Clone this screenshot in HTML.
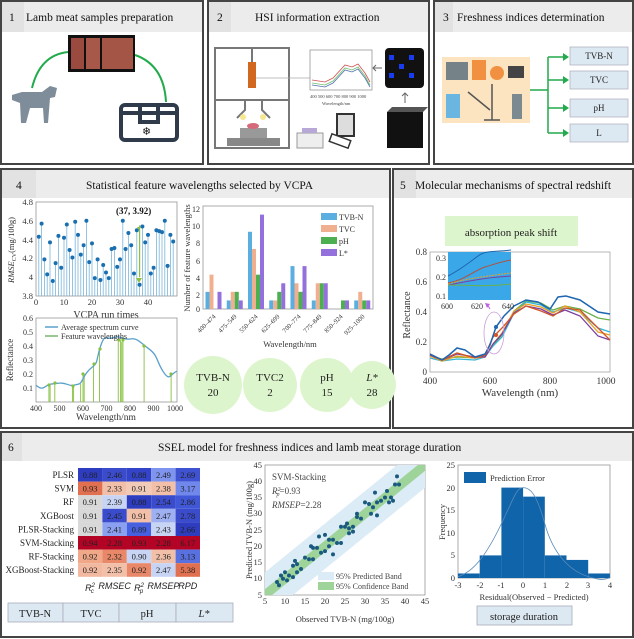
<!DOCTYPE html>
<html><head><meta charset="utf-8"><style>
html,body{margin:0;padding:0;background:#fff}
svg{display:block;font-family:"Liberation Serif",serif}
</style></head><body>
<svg width="634" height="639" viewBox="0 0 634 639" xmlns="http://www.w3.org/2000/svg">
<defs>
<clipPath id="scl"><rect x="265" y="465" width="160" height="130"/></clipPath>
</defs>
<!-- panel frames -->
<g fill="none" stroke="#444" stroke-width="2">
<rect x="1" y="1" width="202" height="163"/>
<rect x="208" y="1" width="221" height="163"/>
<rect x="434" y="1" width="199" height="163"/>
<rect x="1" y="169" width="389" height="259"/>
<rect x="393" y="169" width="240" height="259"/>
<rect x="1" y="432" width="632" height="205"/>
</g>
<g fill="#ececec">
<rect x="2" y="2" width="200" height="30"/>
<rect x="209" y="2" width="219" height="30"/>
<rect x="435" y="2" width="197" height="30"/>
<rect x="2" y="170" width="387" height="28"/>
<rect x="394" y="170" width="238" height="28"/>
<rect x="2" y="433" width="630" height="28"/>
</g>
<g fill="#e2e2e2">
<rect x="2" y="2" width="22" height="30"/><rect x="209" y="2" width="22" height="30"/><rect x="435" y="2" width="18" height="30"/>
<rect x="2" y="170" width="34" height="28"/><rect x="394" y="170" width="22" height="28"/><rect x="2" y="433" width="20" height="28"/>
</g>
<g font-size="11.5" fill="#111">
<text x="9" y="21">1</text><text x="26" y="21">Lamb meat samples preparation</text>
<text x="217" y="21">2</text><text x="255" y="21">HSI information extraction</text>
<text x="443" y="21">3</text><text x="457" y="21">Freshness indices determination</text>
<text x="16" y="189">4</text><text x="86" y="189">Statistical feature wavelengths selected by VCPA</text>
<text x="400" y="189">5</text><text x="415" y="189">Molecular mechanisms of spectral redshift</text>
<text x="8" y="451">6</text><text x="158" y="451">SSEL model for freshness indices and lamb meat storage duration</text>
</g>
<!-- panel 1 -->
<path d="M32 88 Q40 55 68 52" fill="none" stroke="#22aa4c" stroke-width="2"/>
<path d="M135 55 Q164 65 166 102" fill="none" stroke="#22aa4c" stroke-width="2"/>
<rect x="68" y="35" width="67" height="37" fill="#111"/>
<rect x="71" y="38" width="13" height="31" fill="#9a4a3e"/><rect x="86" y="38" width="14" height="31" fill="#a85848"/><rect x="102" y="38" width="31" height="31" fill="#a55545"/>
<path d="M12 95 L22 92 L42 92 L50 86 L57 88 L55 97 L50 98 L48 123 L44 123 L43 108 L30 108 L26 123 L21 123 L20 103 L12 100 Z" fill="#7f8c99"/>
<rect x="121" y="105" width="56" height="35" rx="4" fill="none" stroke="#2f3b4a" stroke-width="4"/>
<path d="M121 113 H177 M140 105 V122 H158 V105" fill="none" stroke="#2f3b4a" stroke-width="4"/>
<text x="142" y="135" font-size="11" fill="#111">❄</text>
<!-- panel 2 -->
<rect x="215" y="48" width="74" height="100" fill="none" stroke="#777" stroke-width="2"/>
<path d="M215 100 H289 M245 100 V110 L237 118 M262 100 V110 L270 118" fill="none" stroke="#777" stroke-width="2"/>
<rect x="248" y="62" width="8" height="26" fill="#d06820"/><path d="M252 48 V62" stroke="#777" stroke-width="2"/>
<path d="M256 78 H310" stroke="#aaa" stroke-width="0.7"/>
<rect x="227" y="138" width="53" height="8" fill="#888"/><rect x="240" y="128" width="27" height="10" fill="#999"/>
<ellipse cx="253" cy="126" rx="6" ry="3" fill="#d56a7a"/>
<circle cx="243" cy="117" r="3" fill="#f6e890"/><circle cx="263" cy="117" r="3" fill="#f6e890"/>
<rect x="310" y="50" width="62" height="40" fill="#fff" stroke="#888" stroke-width="0.7"/>
<path d="M312 80 L325 82 L333 78 L345 65 L352 67 L358 64 L365 73 L370 82" fill="none" stroke="#d05050" stroke-width="0.8"/>
<path d="M312 83 L325 85 L333 81 L345 68 L352 70 L358 67 L365 76 L370 85" fill="none" stroke="#70c070" stroke-width="0.8"/>
<path d="M312 85 L325 87 L333 83 L345 70 L352 72 L358 69 L365 78 L370 87" fill="none" stroke="#5070b0" stroke-width="0.8"/>
<text x="310" y="98" font-size="4.5" fill="#444">400 500 600 700 800 900 1000</text>
<text x="322" y="105" font-size="4.5" fill="#444">Wavelength/nm</text>
<rect x="385" y="48" width="39" height="40" fill="#111" rx="4"/>
<g fill="#1a3cf0"><rect x="389" y="55" width="5" height="5"/><rect x="409" y="55" width="5" height="5"/><rect x="399" y="64" width="5" height="5"/><rect x="389" y="73" width="5" height="5"/><rect x="409" y="73" width="5" height="5"/></g>
<path d="M382 68 H373 M376 65 L373 68 L376 71 M405 103 V93 M402 96 L405 93 L408 96" fill="none" stroke="#666" stroke-width="1"/>
<rect x="387" y="112" width="36" height="36" fill="#111"/><path d="M387 112 L392 107 H428 L423 112" fill="#555"/>
<rect x="297" y="133" width="26" height="15" fill="#eee" stroke="#999"/><rect x="302" y="128" width="15" height="5" fill="#b8a8d8"/>
<rect x="337" y="114" width="17" height="22" fill="#ddd" stroke="#333" stroke-width="2"/>
<rect x="330" y="137" width="20" height="8" fill="#fff" stroke="#333" stroke-width="1.5" transform="rotate(20 340 141)"/>
<!-- panel 3 -->
<rect x="442" y="57" width="88" height="66" fill="#fde4c0"/>
<rect x="446" y="62" width="22" height="18" fill="#3b5a70" opacity="0.7"/><rect x="472" y="60" width="14" height="20" fill="#f09040"/>
<circle cx="497" cy="73" r="7" fill="#f09040"/><rect x="508" y="66" width="16" height="12" fill="#444"/>
<rect x="446" y="94" width="14" height="24" fill="#6ab6e0"/><rect x="512" y="94" width="10" height="25" fill="#7a8a90"/>
<path d="M492 84 V120 M484 120 H500 M468 92 L490 110" stroke="#555" stroke-width="1.5"/>
<path d="M530 90 H548 M548 57 V133 M548 57 H563 M548 80 H563 M548 108 H563 M548 133 H563" fill="none" stroke="#22aa4c" stroke-width="1.5"/>
<g fill="#22aa4c"><path d="M563 53 L569 57 L563 61Z"/><path d="M563 76 L569 80 L563 84Z"/><path d="M563 104 L569 108 L563 112Z"/><path d="M563 129 L569 133 L563 137Z"/></g>
<g fill="#dde9f2" stroke="#aab" stroke-width="0.7">
<rect x="570" y="47" width="58" height="18"/><rect x="570" y="71" width="58" height="18"/><rect x="570" y="99" width="58" height="18"/><rect x="570" y="124" width="58" height="18"/></g>
<g font-size="9" fill="#222" text-anchor="middle"><text x="599" y="59">TVB-N</text><text x="599" y="83">TVC</text><text x="599" y="111">pH</text><text x="599" y="136">L</text></g>
<!-- panel 4 top-left stem -->
<rect x="36" y="202" width="141" height="94" fill="#fff" stroke="#888" stroke-width="0.7"/>
<g transform="translate(36,296) scale(2.8,-94)">
<path vector-effect="non-scaling-stroke" stroke="#7ab6d8" stroke-width="0.8" fill="none" d="M1 0V.63M2 0V.77M3 0V.39M4 0V.23M5 0V.57M6 0V.16M7 0V.35M8 0V.64M9 0V.3M10 0V.62M11 0V.76M12 0V.49M13 0V.41M14 0V.79M15 0V.65M16 0V.44M17 0V.54M18 0V.8M19 0V.36M20 0V.56M21 0V.19M22 0V.39M23 0V.17M24 0V.33M25 0V.25M26 0V.19M27 0V.5M28 0V.51M29 0V.31M30 0V.39M31 0V.8M32 0V.5M33 0V.67M34 0V.54M35 0V.24M36 0V.7M37 0V.12M38 0V.74M39 0V.57M40 0V.65M41 0V.24M42 0V.3M43 0V.7M44 0V.69M45 0V.68M46 0V.8M47 0V.32M48 0V.65M49 0V.58"/>
<path vector-effect="non-scaling-stroke" stroke="#1a6fb0" stroke-width="4" stroke-linecap="round" fill="none" d="M1 .63h0M2 .77h0M3 .39h0M4 .23h0M5 .57h0M6 .16h0M7 .35h0M8 .64h0M9 .3h0M10 .62h0M11 .76h0M12 .49h0M13 .41h0M14 .79h0M15 .65h0M16 .44h0M17 .54h0M18 .8h0M19 .36h0M20 .56h0M21 .19h0M22 .39h0M23 .17h0M24 .33h0M25 .25h0M26 .19h0M27 .5h0M28 .51h0M29 .31h0M30 .39h0M31 .8h0M32 .5h0M33 .67h0M34 .54h0M35 .24h0M36 .7h0M37 .12h0M38 .74h0M39 .57h0M40 .65h0M41 .24h0M42 .3h0M43 .7h0M44 .69h0M45 .68h0M46 .8h0M47 .32h0M48 .65h0M49 .58h0"/>
<path vector-effect="non-scaling-stroke" stroke="#8fc040" stroke-width="1.2" d="M37 .2V.75"/>
</g>
<path d="M137 227 L141 227 L139 230Z" fill="#8fc040"/><path d="M136 278 L142 278 L139 283Z" fill="#8fc040"/>
<text x="116" y="214" font-size="9" font-weight="bold" fill="#111">(37, 3.92)</text>
<g font-size="8.5" fill="#333" text-anchor="end"><text x="33" y="205">4.8</text><text x="33" y="224">4.6</text><text x="33" y="243">4.4</text><text x="33" y="261">4.2</text><text x="33" y="280">4</text><text x="33" y="299">3.8</text></g>
<g font-size="8.5" fill="#333" text-anchor="middle"><text x="36" y="305">0</text><text x="64" y="305">10</text><text x="92" y="305">20</text><text x="120" y="305">30</text><text x="148" y="305">40</text></g>
<text x="106" y="318" font-size="10" fill="#333" text-anchor="middle">VCPA run times</text>
<text transform="translate(14,250) rotate(-90)" font-size="8.5" fill="#333" text-anchor="middle"><tspan font-style="italic">RMSE</tspan><tspan font-size="6" dy="2">CV</tspan><tspan dy="-2">(mg/100g)</tspan></text>
<!-- bottom-left spectrum -->
<rect x="36" y="318" width="141" height="84" fill="#fff" stroke="#888" stroke-width="0.7"/>
<g transform="translate(36,402) scale(0.235,-140)">
<path vector-effect="non-scaling-stroke" stroke="#88c040" stroke-width="0.9" fill="none" d="M55 0V.125M60 0V.13M80 0V.135M155 0V.115M160 0V.12M190 0V.13M200 0V.19M205 0V.2M245 0V.27M270 0V.38M350 0V.445M360 0V.44M365 0V.43M370 0V.44M460 0V.4M575 0V.2"/>
<path vector-effect="non-scaling-stroke" stroke="#5aa0cc" stroke-width="1.3" fill="none" d="M0 .12C15 .1 25 .09 40 .11S70 .13 100 .135 140 .11 160 .12 185 .12 195 .15 215 .22 240 .25 255 .3 275 .4 300 .44 330 .46 370 .44 400 .45 440 .43 480 .38 510 .3 540 .22 570 .2 600 .22"/>
</g>
<g fill="#88c040"><circle cx="49" cy="385" r="1.6"/><circle cx="55" cy="383" r="1.6"/><circle cx="73" cy="386" r="1.6"/><circle cx="83" cy="374" r="1.6"/><circle cx="94" cy="364" r="1.6"/><circle cx="100" cy="349" r="1.6"/><circle cx="119" cy="340" r="1.6"/><circle cx="123" cy="340" r="1.6"/><circle cx="144" cy="346" r="1.6"/><circle cx="171" cy="374" r="1.6"/></g>
<path d="M45 327 H58 M45 336 H58" stroke-width="1.5" stroke="#5aa0cc"/><path d="M45 336 H58" stroke="#88c040" stroke-width="1"/>
<text x="61" y="330" font-size="8" fill="#333">Average spectrum curve</text><text x="61" y="339" font-size="8" fill="#333">Feature wavelengths</text>
<g font-size="8" fill="#333" text-anchor="end"><text x="33" y="321">0.6</text><text x="33" y="335">0.5</text><text x="33" y="349">0.4</text><text x="33" y="363">0.3</text><text x="33" y="377">0.2</text><text x="33" y="391">0.1</text></g>
<g font-size="8" fill="#333" text-anchor="middle"><text x="36" y="411">400</text><text x="59.5" y="411">500</text><text x="83" y="411">600</text><text x="106.5" y="411">700</text><text x="130" y="411">800</text><text x="153.5" y="411">900</text><text x="175" y="411">1000</text></g>
<text x="106" y="420" font-size="9.5" fill="#333" text-anchor="middle">Wavelength/nm</text>
<text transform="translate(13,360) rotate(-90)" font-size="9" fill="#333" text-anchor="middle">Reflectance</text>
<!-- bar chart -->
<rect x="203" y="206" width="170" height="103" fill="#fff" stroke="#888" stroke-width="0.7"/>
<g transform="translate(203,309) scale(1,-8.58)">
<g transform="translate(2.5,0)"><rect x="0" width="4" height="2" fill="#5aaee0"/><rect x="4" width="4" height="4" fill="#f0b090"/><rect x="12" width="4" height="2" fill="#9370db"/></g>
<g transform="translate(23.75,0)"><rect x="0" width="4" height="1" fill="#5aaee0"/><rect x="4" width="4" height="2" fill="#f0b090"/><rect x="8" width="4" height="2" fill="#4caf50"/><rect x="12" width="4" height="1" fill="#9370db"/></g>
<g transform="translate(45,0)"><rect x="0" width="4" height="9" fill="#5aaee0"/><rect x="4" width="4" height="7" fill="#f0b090"/><rect x="8" width="4" height="4" fill="#4caf50"/><rect x="12" width="4" height="11" fill="#9370db"/></g>
<g transform="translate(66.25,0)"><rect x="0" width="4" height="1" fill="#5aaee0"/><rect x="4" width="4" height="1" fill="#f0b090"/><rect x="8" width="4" height="2" fill="#4caf50"/><rect x="12" width="4" height="3" fill="#9370db"/></g>
<g transform="translate(87.5,0)"><rect x="0" width="4" height="5" fill="#5aaee0"/><rect x="4" width="4" height="3" fill="#f0b090"/><rect x="8" width="4" height="2" fill="#4caf50"/><rect x="12" width="4" height="5" fill="#9370db"/></g>
<g transform="translate(108.75,0)"><rect x="0" width="4" height="1" fill="#5aaee0"/><rect x="4" width="4" height="3" fill="#f0b090"/><rect x="8" width="4" height="3" fill="#4caf50"/><rect x="12" width="4" height="3" fill="#9370db"/></g>
<g transform="translate(130,0)"><rect x="8" width="4" height="1" fill="#4caf50"/><rect x="12" width="4" height="1" fill="#9370db"/></g>
<g transform="translate(151.25,0)"><rect x="0" width="4" height="1" fill="#5aaee0"/><rect x="4" width="4" height="2" fill="#f0b090"/><rect x="8" width="4" height="1" fill="#4caf50"/><rect x="12" width="4" height="1" fill="#9370db"/></g>
</g>
<g font-size="8" fill="#333" text-anchor="end"><text x="200" y="212">12</text><text x="200" y="229">10</text><text x="200" y="246">8</text><text x="200" y="264">6</text><text x="200" y="281">4</text><text x="200" y="298">2</text><text x="200" y="312">0</text></g>
<g font-size="6.5" fill="#333" text-anchor="end">
<text transform="translate(216,317) rotate(-45)">400–474</text><text transform="translate(237,317) rotate(-45)">475–549</text><text transform="translate(258,317) rotate(-45)">550–624</text><text transform="translate(280,317) rotate(-45)">625–699</text><text transform="translate(301,317) rotate(-45)">700–774</text><text transform="translate(322,317) rotate(-45)">775–849</text><text transform="translate(343,317) rotate(-45)">850–924</text><text transform="translate(365,317) rotate(-45)">925–1000</text></g>
<text x="290" y="347" font-size="8.5" fill="#333" text-anchor="middle">Wavelength/nm</text>
<text transform="translate(190,258) rotate(-90)" font-size="8.5" fill="#333" text-anchor="middle">Number of feature wavelengths</text>
<rect x="319" y="211" width="52" height="50" fill="#fff"/>
<rect x="321" y="213" width="16" height="7" fill="#5aaee0"/><rect x="321" y="225" width="16" height="7" fill="#f0b090"/><rect x="321" y="237" width="16" height="7" fill="#4caf50"/><rect x="321" y="249" width="16" height="7" fill="#9370db"/>
<g font-size="8" fill="#333"><text x="339" y="220">TVB-N</text><text x="339" y="232">TVC</text><text x="339" y="244">pH</text><text x="339" y="256">L*</text></g>
<g fill="#ddf5cc"><circle cx="213" cy="385" r="29"/><circle cx="270" cy="385" r="27"/><circle cx="327" cy="385" r="27"/><circle cx="372" cy="385" r="24"/></g>
<g font-size="11" fill="#222" text-anchor="middle"><text x="213" y="381">TVB-N</text><text x="213" y="396">20</text><text x="270" y="381">TVC2</text><text x="270" y="396">2</text><text x="327" y="381">pH</text><text x="327" y="396">15</text><text x="372" y="381" font-style="italic">L*</text><text x="372" y="396">28</text></g>
<!-- panel 5 -->
<rect x="445" y="216" width="133" height="30" fill="#ddf5cc"/>
<text x="511" y="236" font-size="11" fill="#222" text-anchor="middle">absorption peak shift</text>
<rect x="430" y="252" width="180" height="120" fill="#fff" stroke="#999" stroke-width="0.7"/>
<polyline fill="none" stroke="#6ab04a" stroke-width="1.3" points="430,356 442,359 457,357 475,358 485,356 493,345 502,335 514,311 526,301 541,303 553,310 565,306 580,309 598,318 610,320"/>
<polyline fill="none" stroke="#35b6d8" stroke-width="1.3" points="430,358 442,361 457,359 475,360 485,357 493,346 502,337 514,313 526,302 541,305 553,312 565,308 580,312 598,328 610,332"/>
<polyline fill="none" stroke="#e9a020" stroke-width="1.3" points="430,356 442,361 457,356 475,358 485,357 493,344 502,333 514,311 526,304 541,307 553,313 565,306 580,312 598,332 610,335"/>
<polyline fill="none" stroke="#7b3fa0" stroke-width="1.3" points="430,355 442,360 457,354 475,357 485,357 493,344 502,334 514,313 526,306 541,309 553,315 565,310 580,316 598,336 610,340"/>
<polyline fill="none" stroke="#d2552a" stroke-width="1.3" points="430,354 442,360 457,353 475,358 485,355 493,337 502,328 514,314 526,306 541,311 553,316 565,308 580,310 598,328 610,340"/>
<polyline fill="none" stroke="#1f66b0" stroke-width="1.5" points="430,354 442,360 449,355 457,348 465,350 475,357 485,354 490,345 496,327 504,316 514,306 526,300 538,302 546,307 550,309 558,297 566,296 580,300 598,312 610,314"/>
<ellipse cx="494" cy="333" rx="10" ry="21" fill="none" stroke="#c9a0d8" stroke-width="0.8"/>
<circle cx="496" cy="327" r="2" fill="#1f66b0"/><circle cx="496" cy="335" r="2" fill="#d2552a"/>
<path d="M490 309 L487 304" stroke="#c060e0" stroke-width="1"/><path d="M485 303 L490 304 L487 308Z" fill="#c060e0"/>
<rect x="448" y="252" width="63" height="48" fill="#3aa8e8"/>
<path d="M448 276 C460 270 470 262 478 256 S495 252 511 250" fill="none" stroke="#1f66b0" stroke-width="1"/>
<path d="M448 283 C465 280 475 270 485 267 S500 262 511 260" fill="none" stroke="#b05040" stroke-width="1"/>
<path d="M448 285 C465 282 480 278 511 276" fill="none" stroke="#7b3fa0" stroke-width="1"/>
<path d="M448 284 C465 279 480 277 511 273" fill="none" stroke="#e9a020" stroke-width="1" stroke-dasharray="2 1"/>
<path d="M448 285 C465 285 485 287 511 284" fill="none" stroke="#6ab04a" stroke-width="1"/>
<g font-size="9" fill="#333" text-anchor="end"><text x="427" y="255">0.8</text><text x="427" y="285">0.6</text><text x="427" y="315">0.4</text><text x="427" y="345">0.2</text><text x="427" y="375">0</text></g>
<g font-size="8" fill="#333"><text x="446" y="261" text-anchor="end">0.3</text><text x="446" y="280" text-anchor="end">0.2</text><text x="446" y="299" text-anchor="end">0.1</text><text x="441" y="309">600</text><text x="471" y="309">620</text><text x="502" y="309">640</text></g>
<g font-size="9.5" fill="#333" text-anchor="middle"><text x="430" y="384">400</text><text x="490" y="384">600</text><text x="550" y="384">800</text><text x="606" y="384">1000</text></g>
<text x="520" y="396" font-size="11" fill="#333" text-anchor="middle">Wavelength (nm)</text>
<text transform="translate(410,315) rotate(-90)" font-size="10" fill="#333" text-anchor="middle">Reflectance</text>
<!-- panel 6 heatmap -->
<g transform="translate(78,468)">
<g><rect x="0" y="0" width="24.4" height="13.6" fill="#2e3cc0"/><rect x="24.4" y="0" width="24.4" height="13.6" fill="#3a4ccc"/><rect x="48.8" y="0" width="24.4" height="13.6" fill="#3344c8"/><rect x="73.2" y="0" width="24.4" height="13.6" fill="#7f94ee"/><rect x="97.6" y="0" width="24.4" height="13.6" fill="#3e52d2"/></g>
<g transform="translate(0,13.6)"><rect width="24.4" height="13.6" fill="#e07050"/><rect x="24.4" width="24.4" height="13.6" fill="#f2c0a8"/><rect x="48.8" width="24.4" height="13.6" fill="#f2cbb8"/><rect x="73.2" width="24.4" height="13.6" fill="#f2c0a8"/><rect x="97.6" width="24.4" height="13.6" fill="#7088ec"/></g>
<g transform="translate(0,27.2)"><rect width="24.4" height="13.6" fill="#d8d8d8"/><rect x="24.4" width="24.4" height="13.6" fill="#c8d4f4"/><rect x="48.8" width="24.4" height="13.6" fill="#2e3cc0"/><rect x="73.2" width="24.4" height="13.6" fill="#3a4ccc"/><rect x="97.6" width="24.4" height="13.6" fill="#4058d8"/></g>
<g transform="translate(0,40.8)"><rect width="24.4" height="13.6" fill="#d8d8d8"/><rect x="24.4" width="24.4" height="13.6" fill="#3a4ccc"/><rect x="48.8" width="24.4" height="13.6" fill="#f2c0a8"/><rect x="73.2" width="24.4" height="13.6" fill="#9eb0f2"/><rect x="97.6" width="24.4" height="13.6" fill="#3a4ccc"/></g>
<g transform="translate(0,54.4)"><rect width="24.4" height="13.6" fill="#d8d8d8"/><rect x="24.4" width="24.4" height="13.6" fill="#8aa0f0"/><rect x="48.8" width="24.4" height="13.6" fill="#4660e0"/><rect x="73.2" width="24.4" height="13.6" fill="#c8d4f4"/><rect x="97.6" width="24.4" height="13.6" fill="#2e3cc0"/></g>
<rect y="68" width="122" height="13.6" fill="#b40426"/>
<g transform="translate(0,81.6)"><rect width="24.4" height="13.6" fill="#f0a888"/><rect x="24.4" width="24.4" height="13.6" fill="#e88868"/><rect x="48.8" width="24.4" height="13.6" fill="#c8d4f4"/><rect x="73.2" width="24.4" height="13.6" fill="#f2c0a8"/><rect x="97.6" width="24.4" height="13.6" fill="#5870e0"/></g>
<g transform="translate(0,95.2)"><rect width="24.4" height="13.6" fill="#f2b8a0"/><rect x="24.4" width="24.4" height="13.6" fill="#f2c0a8"/><rect x="48.8" width="24.4" height="13.6" fill="#e88868"/><rect x="73.2" width="24.4" height="13.6" fill="#c8d4f4"/><rect x="97.6" width="24.4" height="13.6" fill="#e07050"/></g>
<g font-size="8.5" fill="#222" text-anchor="middle">
<text x="12" y="10">0.88</text><text x="36.6" y="10">2.46</text><text x="61" y="10">0.88</text><text x="85.4" y="10">2.49</text><text x="109.8" y="10">2.69</text>
<text x="12" y="23.6">0.93</text><text x="36.6" y="23.6">2.33</text><text x="61" y="23.6">0.91</text><text x="85.4" y="23.6">2.38</text><text x="109.8" y="23.6">3.17</text>
<text x="12" y="37.2">0.91</text><text x="36.6" y="37.2">2.39</text><text x="61" y="37.2">0.88</text><text x="85.4" y="37.2">2.54</text><text x="109.8" y="37.2">2.86</text>
<text x="12" y="50.8">0.91</text><text x="36.6" y="50.8">2.45</text><text x="61" y="50.8">0.91</text><text x="85.4" y="50.8">2.47</text><text x="109.8" y="50.8">2.78</text>
<text x="12" y="64.4">0.91</text><text x="36.6" y="64.4">2.41</text><text x="61" y="64.4">0.89</text><text x="85.4" y="64.4">2.43</text><text x="109.8" y="64.4">2.66</text>
<text x="12" y="78">0.94</text><text x="36.6" y="78">2.28</text><text x="61" y="78">0.93</text><text x="85.4" y="78">2.28</text><text x="109.8" y="78">6.17</text>
<text x="12" y="91.6">0.92</text><text x="36.6" y="91.6">2.32</text><text x="61" y="91.6">0.90</text><text x="85.4" y="91.6">2.36</text><text x="109.8" y="91.6">3.13</text>
<text x="12" y="105.2">0.92</text><text x="36.6" y="105.2">2.35</text><text x="61" y="105.2">0.92</text><text x="85.4" y="105.2">2.47</text><text x="109.8" y="105.2">5.38</text></g>
<g font-size="9" fill="#222" text-anchor="end"><text x="-4" y="10">PLSR</text><text x="-4" y="23.6">SVM</text><text x="-4" y="37.2">RF</text><text x="-4" y="50.8">XGBoost</text><text x="-4" y="64.4">PLSR-Stacking</text><text x="-4" y="78">SVM-Stacking</text><text x="-4" y="91.6">RF-Stacking</text><text x="-4" y="105.2">XGBoost-Stacking</text></g>
<g font-size="9" fill="#222" font-family="Liberation Sans,sans-serif" font-style="italic" text-anchor="middle"><text x="12" y="123">R<tspan font-size="6" dy="-4">2</tspan><tspan font-size="6" dx="-4" dy="6">c</tspan></text><text x="36.6" y="121">RMSEC</text><text x="61" y="123">R<tspan font-size="6" dy="-4">2</tspan><tspan font-size="6" dx="-4" dy="6">p</tspan></text><text x="85.4" y="121">RMSEP</text><text x="109.8" y="121">RPD</text></g>
</g>
<g fill="#dde9f2" stroke="#aab" stroke-width="0.8"><rect x="8" y="603" width="55" height="19"/><rect x="63" y="603" width="56" height="19"/><rect x="119" y="603" width="57" height="19"/><rect x="176" y="603" width="57" height="19"/></g>
<g font-size="10.5" fill="#222" text-anchor="middle"><text x="35" y="617">TVB-N</text><text x="91" y="617">TVC</text><text x="147" y="617">pH</text><text x="204" y="617" font-style="italic">L*</text></g>
<!-- scatter -->
<rect x="265" y="465" width="160" height="130" fill="#fff" stroke="#888" stroke-width="0.7"/>
<g clip-path="url(#scl)"><g transform="translate(265,595) scale(4,-3.25) translate(-5,-5)">
<polygon points="0,-7 50,43 50,57 0,7" fill="#dcecf6"/>
<polygon points="0,-1.8 50,48.2 50,51.8 0,1.8" fill="#9ed49a"/>
<path vector-effect="non-scaling-stroke" stroke="#1a5a80" stroke-width="4" stroke-linecap="round" fill="none" d="M8 9h0M8.5 8h0M9 11h0M9.5 10h0M10 12h0M10.5 9.5h0M11 11h0M12 10.5h0M12 14h0M12.5 15.5h0M13 12h0M13 14.5h0M14 13h0M15 16.5h0M16 16h0M16.5 20h0M17 19.5h0M17 16h0M18 19.5h0M18.5 23h0M19 18h0M20 18.5h0M20 23.5h0M21 20h0M21 22h0M22 17.5h0M22 22h0M23 21h0M24 26h0M24 21h0M25 26h0M25.5 27h0M26 24h0M26 25.5h0M27 26h0M27 24.5h0M28 29h0M28 30h0M29 28.5h0M30 33.5h0M31 33h0M31.5 30h0M32 32h0M32.5 36.5h0M33 29.5h0M33 33.5h0M34 34h0M35 35h0M35.5 37h0M36 33.5h0M36.5 35h0M37 34h0M37.5 39h0M38 41.5h0M38.5 39h0"/>
</g></g>
<text x="272" y="480" font-size="9" fill="#444">SVM-Stacking</text>
<text x="272" y="494" font-size="9" fill="#444" font-style="italic">R<tspan font-size="6" dy="-3">2</tspan><tspan font-size="6" dx="-4" dy="5">p</tspan><tspan dy="-2" font-style="normal">=0.93</tspan></text>
<text x="272" y="508" font-size="9" fill="#444"><tspan font-style="italic">RMSEP</tspan>=2.28</text>
<rect x="318" y="572" width="16" height="8" fill="#dcecf6"/><rect x="318" y="582" width="16" height="8" fill="#9ed49a"/>
<text x="336" y="579" font-size="8" fill="#444">95%  Predicted Band</text><text x="336" y="589" font-size="8" fill="#444">95% Confidence Band</text>
<g font-size="8.5" fill="#333" text-anchor="end"><text x="262" y="468">45</text><text x="262" y="484">40</text><text x="262" y="500">35</text><text x="262" y="516">30</text><text x="262" y="533">25</text><text x="262" y="549">20</text><text x="262" y="565">15</text><text x="262" y="581">10</text><text x="262" y="598">5</text></g>
<g font-size="8.5" fill="#333" text-anchor="middle"><text x="265" y="604">5</text><text x="285" y="604">10</text><text x="305" y="604">15</text><text x="325" y="604">20</text><text x="345" y="604">25</text><text x="365" y="604">30</text><text x="385" y="604">35</text><text x="405" y="604">40</text><text x="425" y="604">45</text></g>
<text x="345" y="622" font-size="8.5" fill="#333" text-anchor="middle">Observed TVB-N (mg/100g)</text>
<text transform="translate(252,530) rotate(-90)" font-size="8.5" fill="#333" text-anchor="middle">Predicted TVB-N (mg/100g)</text>
<!-- histogram -->
<rect x="458" y="465" width="152" height="113" fill="#fff" stroke="#888" stroke-width="0.7"/>
<g transform="translate(458,578) scale(21.7,-4.52) translate(3,0)" fill="#1064aa">
<rect x="-3" y="0" width="1" height="1"/><rect x="-2" y="0" width="1" height="5"/><rect x="-1" y="0" width="1" height="20"/><rect x="0" y="0" width="1" height="18"/><rect x="1" y="0" width="1" height="5"/><rect x="2" y="0" width="1" height="4"/><rect x="3" y="0" width="1" height="1"/>
<path vector-effect="non-scaling-stroke" fill="none" stroke="#5a8ab8" stroke-width="0.8" d="M-3 .3C-2.2 1.5 -1.6 6 -1 12S-0.3 20 0 20 0.6 19 1 12 2.2 1.5 3 .3 3.8 0 4 0"/>
</g>
<rect x="464" y="472" width="22" height="11" fill="#1064aa"/><text x="490" y="481" font-size="8.5" fill="#333">Prediction Error</text>
<g font-size="8.5" fill="#333" text-anchor="end"><text x="455" y="468">25</text><text x="455" y="491">20</text><text x="455" y="513">15</text><text x="455" y="536">10</text><text x="455" y="558">5</text><text x="455" y="581">0</text></g>
<g font-size="8.5" fill="#333" text-anchor="middle"><text x="458" y="588">-3</text><text x="480" y="588">-2</text><text x="501" y="588">-1</text><text x="523" y="588">0</text><text x="545" y="588">1</text><text x="567" y="588">2</text><text x="588" y="588">3</text><text x="610" y="588">4</text></g>
<text x="534" y="600" font-size="8.5" fill="#333" text-anchor="middle">Residual(Observed − Predicted)</text>
<text transform="translate(445,522) rotate(-90)" font-size="8.5" fill="#333" text-anchor="middle">Frequency</text>
<rect x="477" y="606" width="95" height="19" fill="#dde9f2" stroke="#aab" stroke-width="0.8"/>
<text x="524" y="620" font-size="10.5" fill="#222" text-anchor="middle">storage duration</text>
</svg>
</body></html>
